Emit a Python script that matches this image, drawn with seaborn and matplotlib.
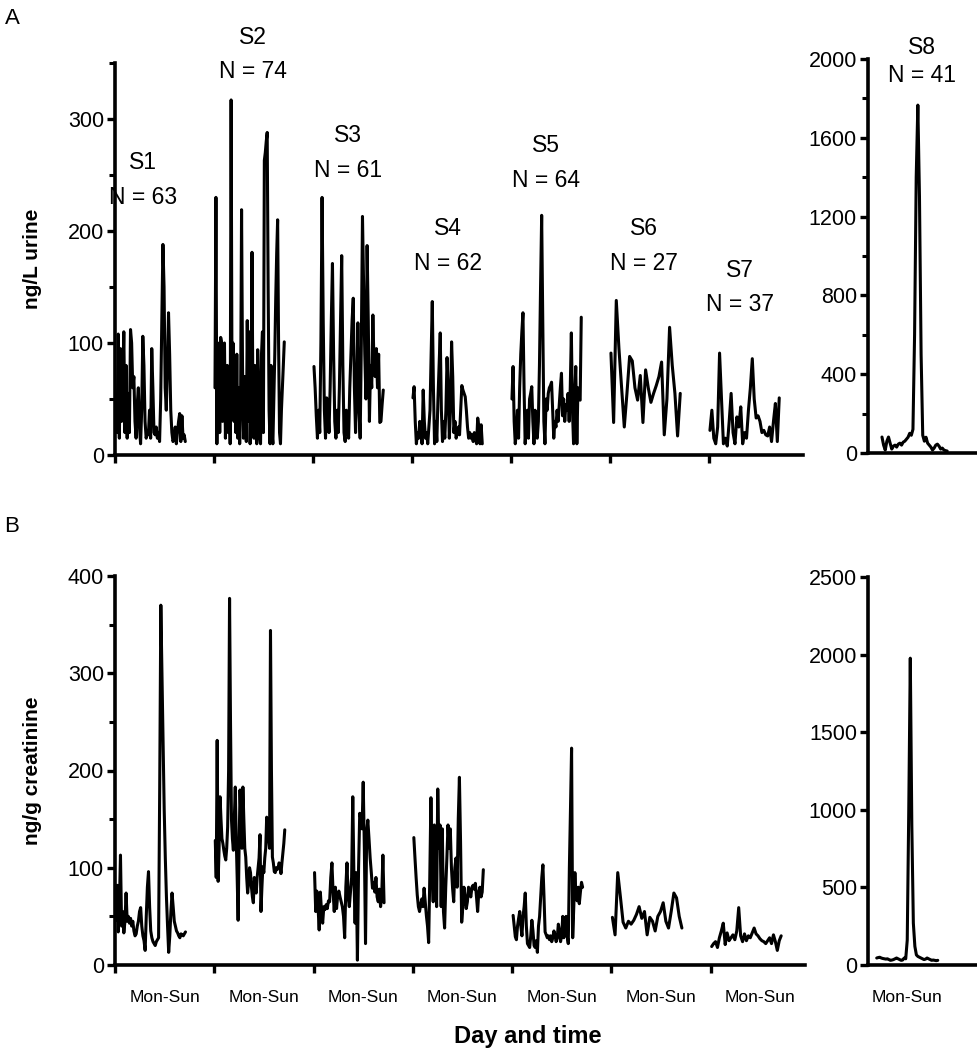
import numpy as np
import pandas as pd
import seaborn as sns
import matplotlib.pyplot as plt
from matplotlib.ticker import MultipleLocator

subjects = ["S1", "S2", "S3", "S4", "S5", "S6", "S7"]
n_labels = [63, 74, 61, 62, 64, 27, 37]
s8_n = 41

# panel A: ng/L urine
urine_s1 = [50, 20, 108, 15, 95, 30, 60, 110, 20, 80, 15, 55, 20, 112, 100, 60, 70, 30, 15, 45,
            60, 25, 10, 40, 106, 80, 30, 15, 20, 18, 40, 15, 95, 60, 20, 18, 25, 15, 20, 12,
            50, 120, 188, 150, 60, 40, 80, 127, 90, 40, 20, 12, 15, 25, 10, 20, 30, 37, 12, 35,
            15, 18, 12]
urine_s2 = [60, 230, 10, 100, 95, 20, 105, 100, 30, 90, 100, 15, 60, 80, 20, 70, 10, 317, 40, 100,
            30, 70, 20, 90, 15, 60, 10, 50, 219, 80, 15, 70, 30, 12, 120, 30, 110, 10, 60, 181,
            40, 15, 80, 20, 10, 94, 60, 15, 10, 90, 110, 20, 263, 270, 280, 288, 150, 40, 10, 80,
            20, 10, 50, 90, 140, 180, 210, 100, 20, 10, 40, 60, 80, 101]
urine_s3 = [79, 60, 35, 15, 40, 20, 100, 230, 120, 40, 15, 51, 45, 20, 60, 120, 171, 90, 30, 15,
            40, 20, 60, 120, 178, 80, 20, 12, 40, 30, 15, 60, 90, 120, 140, 60, 20, 60, 118, 40,
            15, 100, 213, 150, 90, 50, 187, 120, 30, 80, 60, 125, 80, 70, 95, 60, 90, 29, 30, 45,
            58]
urine_s4 = [51, 61, 30, 10, 20, 15, 30, 25, 10, 58, 30, 15, 20, 10, 25, 40, 90, 137, 60, 10,
            30, 12, 50, 80, 109, 40, 12, 30, 15, 40, 87, 60, 15, 40, 101, 70, 20, 30, 15, 20,
            25, 18, 40, 62, 58, 55, 52, 40, 25, 15, 20, 15, 18, 12, 20, 15, 10, 33, 25, 10,
            27, 10]
urine_s5 = [50, 79, 30, 10, 20, 40, 15, 60, 90, 110, 127, 60, 10, 25, 40, 15, 50, 55, 61, 30,
            10, 40, 20, 15, 30, 80, 150, 214, 120, 30, 10, 50, 40, 55, 60, 62, 65, 40, 15, 30,
            25, 40, 30, 45, 60, 73, 35, 50, 30, 45, 40, 55, 30, 60, 109, 40, 10, 50, 79, 10,
            60, 50, 49, 123]
urine_s6 = [91, 29, 138, 95, 60, 25, 55, 88, 84, 60, 49, 71, 29, 76, 60, 47, 55, 62, 70, 83,
            18, 50, 114, 80, 55, 17, 55]
urine_s7 = [22, 40, 15, 10, 25, 91, 50, 10, 15, 8, 30, 55, 20, 10, 34, 25, 43, 10, 20, 15,
            40, 60, 86, 50, 33, 35, 30, 20, 22, 18, 17, 25, 12, 30, 46, 12, 51]
urine_s8 = [81, 40, 15, 60, 81, 50, 20, 35, 40, 30, 45, 50, 40, 55, 60, 70, 80, 100, 90, 120,
            600, 1400, 1766, 1300, 500, 90, 60, 80, 50, 40, 30, 15, 25, 40, 45, 35, 20, 25, 15, 12,
            10]

# panel B: ng/g creatinine
creat_s1 = [46, 82, 34, 60, 113, 40, 55, 33, 45, 74, 45, 50, 43, 48, 40, 45, 35, 30, 32, 40,
            45, 55, 59, 40, 30, 25, 15, 50, 80, 96, 60, 35, 28, 24, 22, 20, 24, 26, 28, 183,
            370, 300, 230, 160, 110, 70, 40, 13, 30, 55, 74, 60, 45, 40, 35, 33, 30, 28, 32, 31,
            30, 32, 34]
creat_s2 = [128, 90, 231, 86, 120, 173, 150, 130, 125, 118, 112, 108, 120, 142, 200, 377, 250, 150, 130, 118,
            150, 183, 130, 90, 46, 120, 180, 150, 120, 183, 150, 120, 111, 90, 74, 85, 100, 95, 80, 70,
            64, 90, 80, 74, 90, 100, 110, 134, 55, 80, 101, 95, 110, 120, 152, 140, 130, 120, 344, 200,
            111, 105, 96, 95, 100, 98, 100, 105, 103, 94, 105, 115, 125, 139]
creat_s3 = [95, 55, 76, 60, 36, 75, 55, 43, 60, 57, 62, 58, 66, 65, 90, 105, 75, 55, 80, 58,
            72, 76, 70, 65, 60, 50, 28, 80, 105, 70, 60, 75, 90, 173, 90, 43, 95, 5, 100, 156,
            150, 140, 188, 120, 22, 137, 149, 130, 110, 95, 79, 85, 75, 90, 70, 65, 78, 60, 72, 113,
            64]
creat_s4 = [131, 110, 90, 72, 60, 55, 62, 68, 60, 79, 65, 51, 40, 23, 90, 172, 100, 65, 144, 100,
            60, 181, 120, 144, 60, 140, 55, 38, 80, 110, 144, 120, 140, 100, 79, 65, 100, 110, 80, 150,
            193, 127, 44, 60, 80, 70, 58, 65, 80, 75, 70, 80, 82, 78, 84, 70, 55, 75, 80, 70,
            75, 98]
creat_s5 = [51, 40, 29, 26, 40, 48, 55, 40, 30, 50, 60, 74, 40, 22, 20, 18, 30, 46, 35, 20,
            18, 25, 13, 40, 50, 70, 90, 103, 70, 34, 31, 28, 30, 26, 30, 24, 28, 35, 30, 24,
            28, 42, 35, 24, 30, 50, 28, 44, 50, 30, 22, 100, 160, 223, 28, 60, 95, 70, 66, 80,
            63, 75, 85, 80]
creat_s6 = [49, 31, 95, 70, 44, 38, 45, 42, 46, 52, 60, 48, 55, 31, 49, 45, 35, 50, 55, 64,
            45, 38, 55, 74, 69, 50, 38]
creat_s7 = [19, 22, 24, 18, 28, 35, 43, 21, 33, 25, 28, 31, 26, 35, 59, 30, 24, 32, 25, 30,
            28, 33, 38, 32, 30, 27, 25, 24, 22, 25, 28, 22, 31, 24, 15, 25, 30]
creat_s8 = [45, 48, 50, 45, 42, 40, 38, 40, 35, 30, 32, 35, 40, 45, 40, 35, 30, 32, 45, 40,
            160, 1000, 1977, 900, 270, 120, 65, 55, 50, 45, 40, 35, 38, 45, 40, 35, 30, 32, 30, 28,
            30]

urine = [urine_s1, urine_s2, urine_s3, urine_s4, urine_s5, urine_s6, urine_s7]
creat = [creat_s1, creat_s2, creat_s3, creat_s4, creat_s5, creat_s6, creat_s7]

# label anchors (week offset, value) for the "S# / N = ##" text in panel A
label_t = [2.8, 3.9, 3.5, 3.6, 3.5, 3.4, 3.1]
label_n_y = [230, 342, 254, 171, 245, 171, 134]

LW = 2.2


def long_frame(series_list):
    parts = []
    for i, vals in enumerate(series_list):
        day = np.linspace(0.1, 7.1, len(vals)) + 10 * i
        parts.append(pd.DataFrame({"subject": subjects[i], "day": day, "value": vals}))
    return pd.concat(parts, ignore_index=True)


def style(ax):
    sns.despine(ax=ax)
    for s in ["left", "bottom"]:
        ax.spines[s].set_linewidth(2.6)
        ax.spines[s].set_color("black")
    ax.tick_params(which="major", length=6, width=2.4, direction="out", color="black",
                   labelcolor="black", labelsize=15.5, pad=2)
    ax.tick_params(which="minor", length=4, width=2.2, direction="out", color="black")
    ax.set_xlabel("")
    ax.set_ylabel("")


sns.set_style("ticks")
plt.rcParams["font.family"] = ["Liberation Sans", "DejaVu Sans"]
plt.rcParams["text.color"] = "black"

fig = plt.figure(figsize=(9.78, 10.5), dpi=100)
W, H = 978, 1050


def add_ax(left, right, top, bottom):
    return fig.add_axes([left / W, 1 - bottom / H, (right - left) / W, (bottom - top) / H])


# ---- panel A ----
ax_a = add_ax(115, 803, 63, 455)
sns.lineplot(data=long_frame(urine), x="day", y="value", units="subject", estimator=None,
             color="black", lw=LW, ax=ax_a)
ax_a.set_xlim(0, 69.5)
ax_a.set_ylim(0, 350)
ax_a.set_xticks(range(0, 70, 10))
ax_a.set_xticklabels([])
ax_a.yaxis.set_major_locator(MultipleLocator(100))
ax_a.yaxis.set_minor_locator(MultipleLocator(50))
style(ax_a)
ax_a.set_ylabel("ng/L urine", fontweight="bold", fontsize=15, color="black")
ax_a.yaxis.set_label_coords(-0.106, 0.5)
for i, s in enumerate(subjects):
    x = 10 * i + label_t[i]
    ax_a.text(x, label_n_y[i] + 31, s, ha="center", va="center", fontsize=16.5, clip_on=False)
    ax_a.text(x, label_n_y[i], f"N = {n_labels[i]}", ha="center", va="center", fontsize=16.5,
              clip_on=False)

ax_a8 = add_ax(868, 977, 59, 453)
sns.lineplot(x=np.linspace(0, 7, len(urine_s8)), y=urine_s8, color="black", lw=LW, ax=ax_a8)
ax_a8.set_xlim(-1.5, 10.2)
ax_a8.set_ylim(0, 2000)
ax_a8.set_xticks([])
ax_a8.yaxis.set_major_locator(MultipleLocator(400))
ax_a8.yaxis.set_minor_locator(MultipleLocator(200))
style(ax_a8)
ax_a8.text(4.3, 2056, "S8", ha="center", va="center", fontsize=16.5, clip_on=False)
ax_a8.text(4.3, 1914, f"N = {s8_n}", ha="center", va="center", fontsize=16.5, clip_on=False)

# ---- panel B ----
ax_b = add_ax(115, 805, 576, 965)
sns.lineplot(data=long_frame(creat), x="day", y="value", units="subject", estimator=None,
             color="black", lw=LW, ax=ax_b)
ax_b.set_xlim(0, 69.5)
ax_b.set_ylim(0, 400)
ax_b.set_xticks(range(0, 70, 10))
ax_b.set_xticklabels([])
ax_b.set_xticks([10 * i + 5 for i in range(7)], ["Mon-Sun"] * 7, minor=True)
ax_b.yaxis.set_major_locator(MultipleLocator(100))
ax_b.yaxis.set_minor_locator(MultipleLocator(50))
style(ax_b)
ax_b.tick_params(axis="x", which="minor", length=0, pad=18, labelsize=12.5, labelcolor="black")
ax_b.set_ylabel("ng/g creatinine", fontweight="bold", fontsize=15, color="black")
ax_b.yaxis.set_label_coords(-0.106, 0.5)

ax_b8 = add_ax(868, 977, 577, 965)
sns.lineplot(x=np.linspace(0, 7, len(creat_s8)), y=creat_s8, color="black", lw=LW, ax=ax_b8)
ax_b8.set_xlim(-1.0, 11.5)
ax_b8.set_ylim(0, 2500)
ax_b8.yaxis.set_major_locator(MultipleLocator(500))
style(ax_b8)
ax_b8.set_xticks([3.5], ["Mon-Sun"])
ax_b8.tick_params(axis="x", length=0, pad=18, labelsize=12.5)

fig.text(528 / W, 1 - 1037 / H, "Day and time", ha="center", va="center",
         fontsize=17, fontweight="bold")
fig.text(12 / W, 1 - 18 / H, "A", ha="center", va="center", fontsize=16)
fig.text(12 / W, 1 - 527 / H, "B", ha="center", va="center", fontsize=16)

fig.savefig("out.png", dpi=100)
